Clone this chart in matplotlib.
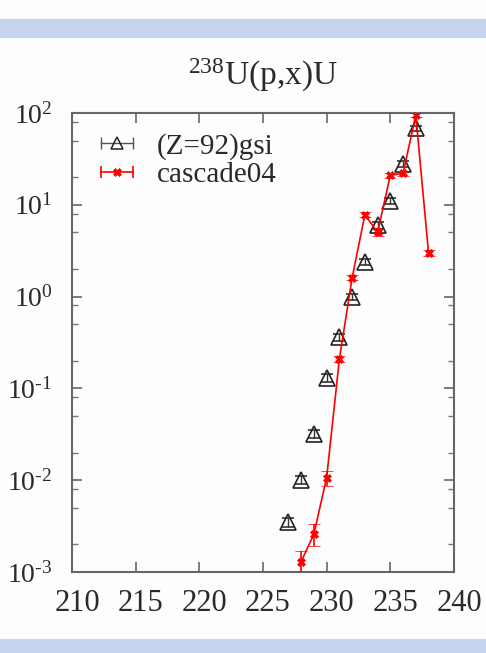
import math
import matplotlib
matplotlib.use("Agg")
import matplotlib.pyplot as plt
from matplotlib.patches import Rectangle
from matplotlib.lines import Line2D
from matplotlib.legend_handler import HandlerLine2D
from matplotlib.transforms import ScaledTranslation
from matplotlib.ticker import FixedLocator, FuncFormatter, LogLocator, NullFormatter

# ---- data ----
gsi_x = [227, 228, 229, 230, 231, 232, 233, 234, 235, 236, 237]
gsi_y = [0.0035, 0.010, 0.032, 0.13, 0.36, 1.0, 2.4, 6.0, 11.0, 28.0, 68.0]
gsi_err = [0.0004, 0.001, 0.003, 0.012, 0.03, 0.08, 0.2, 0.5, 0.9, 2.2, 5.0]

cas_x = [228, 229, 230, 231, 232, 233, 234, 235, 236, 237, 238]
cas_y = [0.0013, 0.0026, 0.0107, 0.21, 1.6, 7.8, 5.0, 21.0, 22.0, 95.0, 3.0]
cas_err = [0.0004, 0.0007, 0.002, 0.015, 0.1, 0.5, 0.4, 1.2, 1.3, 4.0, 0.2]

x_ticks = [210, 215, 220, 225, 230, 235, 240]
y_exps = [-3, -2, -1, 0, 1, 2]
title = r"$\mathregular{^{238}}$U(p,x)U"
labels = ["(Z=92)gsi", "cascade04"]

plt.rcParams["font.family"] = ["Liberation Serif", "DejaVu Serif"]
plt.rcParams["mathtext.fontset"] = "custom"
plt.rcParams["mathtext.rm"] = "Liberation Serif"

fig = plt.figure(figsize=(4.86, 6.53), dpi=100)
fig.patch.set_facecolor("#fdfdfd")

# decorative bands
band_col = "#c6d4f0"
fig.patches.append(Rectangle((0, 1 - 38 / 653), 1, 19 / 653, transform=fig.transFigure,
                             facecolor=band_col, edgecolor="none", zorder=0))
fig.patches.append(Rectangle((0, 0), 1, 14 / 653, transform=fig.transFigure,
                             facecolor=band_col, edgecolor="none", zorder=0))

ax = fig.add_axes([72 / 486, 1 - 572 / 653, (454 - 72) / 486, (572 - 113) / 653])
ax.set_facecolor("#fdfdfd")
ax.set_yscale("log")
ax.set_xlim(210, 240)
ax.set_ylim(1e-3, 1e2)

ax.errorbar(gsi_x, gsi_y, yerr=gsi_err, fmt="^", color="black", mfc="none",
            mec="#222222", ms=11, mew=1.2, elinewidth=1.0, capsize=4,
            ecolor="#333333", zorder=3)
ax.errorbar(cas_x, cas_y, yerr=cas_err, fmt="-X", color="red", ms=6, mew=0.5,
            lw=1.2, elinewidth=1.2, capsize=4, zorder=4)

ax.xaxis.set_major_locator(FixedLocator(x_ticks))
ax.yaxis.set_major_locator(FixedLocator([10.0 ** e for e in y_exps]))


def yfmt(v, p):
    e = round(math.log10(v))
    s = str(e).replace("-", r"\text{-}")
    return r"$\mathregular{10^{%s}}$" % s


ax.yaxis.set_major_formatter(FuncFormatter(yfmt))
ax.yaxis.set_minor_locator(LogLocator(base=10, subs=[2, 5, 8]))
ax.yaxis.set_minor_formatter(NullFormatter())

ax.tick_params(which="major", direction="in", length=7, width=1.2, colors="#666666",
               top=True, right=True, labelcolor="#2a2a2a")
ax.tick_params(axis="x", which="major", pad=12, labelsize=22)
ax.tick_params(axis="y", which="major", pad=14, labelsize=20)
ax.tick_params(which="minor", direction="in", length=4, width=1.0, colors="#777777",
               top=True, right=True)
for s in ax.spines.values():
    s.set_color("#666666")
    s.set_linewidth(1.5)

off = ScaledTranslation(5 / 100, 0, fig.dpi_scale_trans)
for lab in ax.get_xticklabels():
    lab.set_transform(lab.get_transform() + off)

ax.set_title(title, fontsize=24, color="#2a2a2a", pad=20)

# legend handles in gnuplot style (horizontal bar with end caps + point)
cap_g = Line2D([], [], color="#555555", lw=1.0, marker="|", ms=8, mew=1.0)
pt_g = Line2D([], [], ls="none", marker="^", mfc="none", mec="#222222", ms=9, mew=1.1)
cap_r = Line2D([], [], color="red", lw=1.2, marker="|", ms=8, mew=1.2)
pt_r = Line2D([], [], ls="none", marker="X", color="red", ms=6, mew=0.5)
leg = ax.legend([(cap_g, pt_g), (cap_r, pt_r)], labels,
                handler_map={cap_g: HandlerLine2D(numpoints=2, marker_pad=0),
                             cap_r: HandlerLine2D(numpoints=2, marker_pad=0)},
                loc="upper left", bbox_to_anchor=(0.03, 0.995), frameon=False,
                fontsize=21, handlelength=1.1, handletextpad=0.8,
                labelspacing=0.08, borderaxespad=0.2)
for t in leg.get_texts():
    t.set_color("#2a2a2a")

fig.savefig("out.png", dpi=100, facecolor=fig.get_facecolor())
